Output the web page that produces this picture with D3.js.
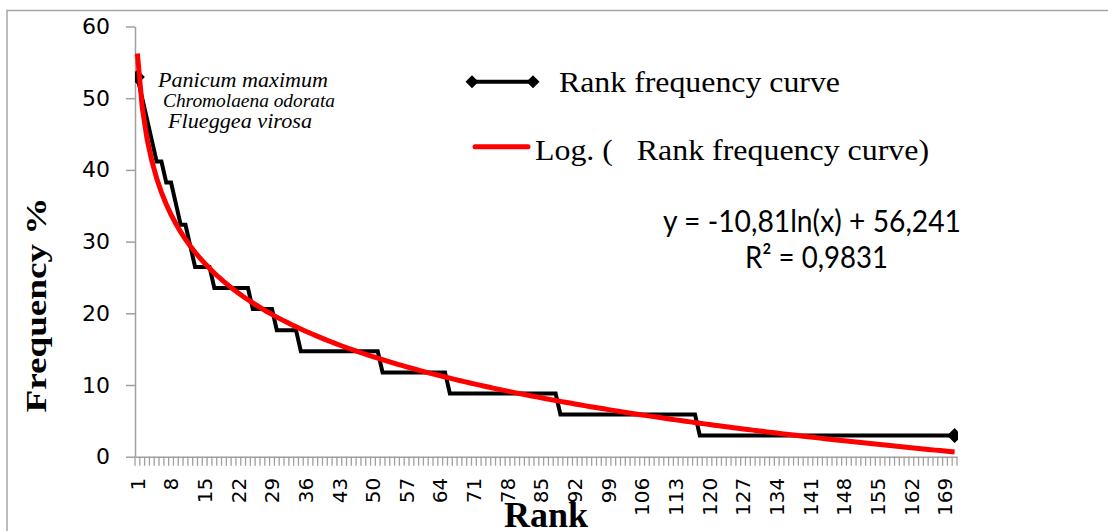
<!DOCTYPE html>
<html>
<head>
<meta charset="utf-8">
<script src="https://cdn.jsdelivr.net/npm/d3@7"></script>
<style>
    body { margin: 0; background: #fff; }
    svg { display: block; }
</style>
</head>
<body>
<script>
// ranks 1..171, frequency classes (% of plots) and how many species fall in each
const rankCount = 171;
const freqLevels = [52.94, 50.00, 47.06, 44.12, 41.18, 38.24, 35.29, 32.35, 29.41, 26.47, 23.53, 20.59, 17.65, 14.71, 11.76, 8.82, 5.88, 2.94];
const levelCounts = [1, 1, 1, 1, 2, 2, 1, 2, 1, 4, 8, 5, 5, 17, 14, 23, 29, 54];
// Excel logarithmic trendline, as printed on the chart
const trendSlope = -10.81;
const trendIntercept = 56.241;
const yTicks = [0, 10, 20, 30, 40, 50, 60];
const xLabelStep = 7;
const speciesNames = ["Panicum maximum", "Chromolaena odorata", "Flueggea virosa"];
const legendLabels = ["Rank frequency curve", "Log. (   Rank frequency curve)"];
const equationLines = ["y = -10,81ln(x) + 56,241", "R\u00B2 = 0,9831"];

const W = 1108, H = 531;
const ranks = d3.range(1, rankCount + 1);
const freqSeries = [];
freqLevels.forEach((v, i) => {
    for (let k = 0; k < levelCounts[i]; k++) freqSeries.push({ rank: freqSeries.length + 1, value: v });
});
const trendSeries = ranks.map(r => ({ rank: r, value: trendSlope * Math.log(r) + trendIntercept }));

const svg = d3.select("body").append("svg")
    .attr("width", W)
    .attr("height", H);

// chart area border (right and bottom fall outside the picture)
svg.append("path")
    .attr("d", "M7,560V10.5H1130")
    .style("fill", "none")
    .style("stroke", "#a6a6a6")
    .style("stroke-width", 1.5);

const x = d3.scaleBand().domain(ranks).range([135, 957]);
const y = d3.scaleLinear().domain([0, 60]).range([456.7, 26.5]);
const cx = r => x(r) + x.bandwidth() / 2;

// y axis
const yAxis = svg.append("g")
    .attr("transform", "translate(135,0)")
    .call(d3.axisLeft(y).tickValues(yTicks).tickSize(9).tickSizeOuter(0).tickPadding(16));
yAxis.select(".domain").style("stroke", "#a0a0a0").style("stroke-width", 1.5);
yAxis.selectAll(".tick line").style("stroke", "#a0a0a0").style("stroke-width", 1.5);
yAxis.selectAll(".tick text")
    .style("font-family", "DejaVu Sans")
    .style("font-size", "22px")
    .style("fill", "#000");

// x axis: labels every 7th rank, tick marks between categories
const xAxis = svg.append("g")
    .attr("transform", "translate(0,456.7)")
    .call(d3.axisBottom(x)
        .tickValues(ranks.filter(r => (r - 1) % xLabelStep === 0))
        .tickSize(0).tickSizeOuter(0));
xAxis.select(".domain").style("stroke", "#a0a0a0").style("stroke-width", 1.5);
xAxis.selectAll(".tick text")
    .attr("transform", "rotate(-90)")
    .attr("x", -21)
    .attr("y", 0)
    .attr("dy", "0.36em")
    .attr("text-anchor", "end")
    .style("font-family", "DejaVu Sans")
    .style("font-size", "20px")
    .style("fill", "#000");
xAxis.selectAll(".minor")
    .data(ranks.concat([null]))
    .enter().append("line")
    .attr("class", "minor")
    .attr("x1", d => d === null ? x.range()[1] : x(d))
    .attr("x2", d => d === null ? x.range()[1] : x(d))
    .attr("y1", 0)
    .attr("y2", 9)
    .style("stroke", "#a0a0a0")
    .style("stroke-width", 1.3);

// plot clip so edge markers are cut like in Excel
svg.append("clipPath").attr("id", "plotClip")
    .append("rect").attr("x", 135).attr("y", 0).attr("width", 823).attr("height", 462);
const plot = svg.append("g").attr("clip-path", "url(#plotClip)");

const line = d3.line().x(d => cx(d.rank)).y(d => y(d.value));
const diamond = s => "M0," + (-s) + "L" + s + ",0L0," + s + "L" + (-s) + ",0Z";

plot.append("path")
    .datum(freqSeries)
    .attr("d", line)
    .style("fill", "none")
    .style("stroke", "#000")
    .style("stroke-width", 4)
    .style("stroke-linejoin", "miter");

plot.selectAll(".marker")
    .data([freqSeries[0], freqSeries[freqSeries.length - 1]])
    .enter().append("path")
    .attr("class", "marker")
    .attr("d", diamond(7.5))
    .attr("transform", d => "translate(" + cx(d.rank) + "," + y(d.value) + ")")
    .style("fill", "#000");

plot.append("path")
    .datum(trendSeries)
    .attr("d", line)
    .style("fill", "none")
    .style("stroke", "#ff0000")
    .style("stroke-width", 5)
    .style("stroke-linejoin", "round");

// species labels
const speciesPos = [[158, 86.7, 22, 170], [163, 106.7, 18, 172], [168, 128.3, 22, 144]];
svg.selectAll(".species")
    .data(speciesNames)
    .enter().append("text")
    .attr("class", "species")
    .attr("x", (d, i) => speciesPos[i][0])
    .attr("y", (d, i) => speciesPos[i][1])
    .attr("textLength", (d, i) => speciesPos[i][3])
    .attr("lengthAdjust", "spacingAndGlyphs")
    .style("font-family", "Liberation Serif")
    .style("font-style", "italic")
    .style("font-size", (d, i) => speciesPos[i][2] + "px")
    .text(d => d);

// legend
const lg = svg.append("g");
lg.append("line")
    .attr("x1", 472).attr("x2", 533).attr("y1", 81.7).attr("y2", 81.7)
    .style("stroke", "#000").style("stroke-width", 4);
lg.selectAll(".lgmark")
    .data([472, 533])
    .enter().append("path")
    .attr("d", diamond(6.5))
    .attr("transform", d => "translate(" + d + ",81.7)")
    .style("fill", "#000");
lg.append("line")
    .attr("x1", 475).attr("x2", 528).attr("y1", 146.7).attr("y2", 146.7)
    .style("stroke", "#ff0000").style("stroke-width", 5).style("stroke-linecap", "round");
const legendPos = [[559, 91.7, 281], [535, 159.5, 394]];
lg.selectAll(".lgtext")
    .data(legendLabels)
    .enter().append("text")
    .attr("x", (d, i) => legendPos[i][0])
    .attr("y", (d, i) => legendPos[i][1])
    .attr("textLength", (d, i) => legendPos[i][2])
    .attr("lengthAdjust", "spacingAndGlyphs")
    .style("white-space", "pre")
    .style("font-family", "Liberation Serif")
    .style("font-size", "29px")
    .text(d => d);

// trendline equation
const eqPos = [[663, 231.7, 298], [745, 268, 143]];
svg.selectAll(".eq")
    .data(equationLines)
    .enter().append("text")
    .attr("x", (d, i) => eqPos[i][0])
    .attr("y", (d, i) => eqPos[i][1])
    .attr("textLength", (d, i) => eqPos[i][2])
    .attr("lengthAdjust", "spacingAndGlyphs")
    .style("font-family", "Lato")
    .style("font-size", "30px")
    .text(d => d);

// axis titles
svg.append("text")
    .attr("transform", "translate(46,305) rotate(-90)")
    .attr("text-anchor", "middle")
    .attr("textLength", 215)
    .attr("lengthAdjust", "spacingAndGlyphs")
    .style("font-family", "Liberation Serif")
    .style("font-weight", "bold")
    .style("font-size", "30px")
    .text("Frequency %");
svg.append("text")
    .attr("x", 546)
    .attr("y", 527)
    .attr("text-anchor", "middle")
    .style("font-family", "Liberation Serif")
    .style("font-weight", "bold")
    .style("font-size", "36px")
    .text("Rank");
</script>
</body>
</html>
